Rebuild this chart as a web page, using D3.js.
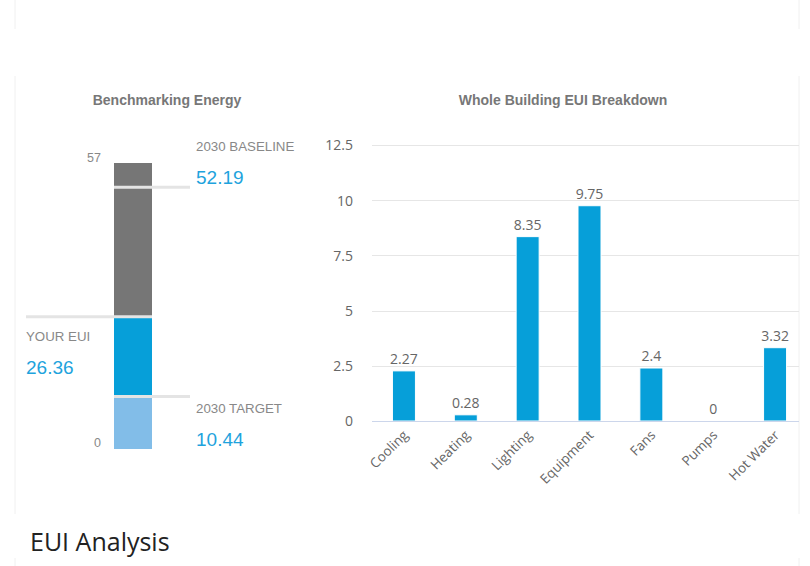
<!DOCTYPE html>
<html>
<head>
<meta charset="UTF-8" />
<title>EUI Analysis</title>
<script src="https://cdn.jsdelivr.net/npm/d3@7"></script>
<style>
body{margin:0;background:#fff;}
svg{display:block;}
</style>
</head>
<body>
<div id="chart"></div>
<script type="text/javascript">
var w=810,h=566;

// benchmark data
var benchLabels=['2030 BASELINE','YOUR EUI','2030 TARGET'];
var benchValues=[52.19,26.36,10.44];
var benchMax=57;

// breakdown data
var categories=['Cooling','Heating','Lighting','Equipment','Fans','Pumps','Hot Water'];
var values=[2.27,0.28,8.35,9.75,2.4,0,3.32];
var yTicks=[0,2.5,5,7.5,10,12.5];

var svg=d3.select('#chart').append('svg')
  .attr('width',w).attr('height',h);

// faint panel edges
var panels=[[0,29],[76,514],[558,566]];
panels.forEach(function(p){
  [15,799].forEach(function(x){
    svg.append('line').attr('x1',x).attr('x2',x).attr('y1',p[0]).attr('y2',p[1])
      .attr('stroke','#f0f0f0').attr('stroke-width',1);
  });
});

// ---------- left: benchmarking ----------
svg.append('text').attr('x',167).attr('y',105).attr('text-anchor','middle')
  .attr('font-family','Liberation Sans, Arial, sans-serif').attr('font-size',14)
  .attr('font-weight','bold').attr('fill','#777').text('Benchmarking Energy');

var by=d3.scaleLinear().domain([0,benchMax]).range([449,163]);
var bx0=114,bw=38;

var segs=[
  {from:benchMax,to:benchValues[1],color:'#767676'},
  {from:benchValues[1],to:benchValues[2],color:'#069fd9'},
  {from:benchValues[2],to:0,color:'#82bde8'}
];
svg.selectAll('rect.seg').data(segs).enter().append('rect')
  .attr('class','seg')
  .attr('x',bx0).attr('width',bw)
  .attr('y',function(d){return by(d.from);})
  .attr('height',function(d){return by(d.to)-by(d.from);})
  .attr('fill',function(d){return d.color;});

// marker lines: baseline & target go right, your eui goes left
var markers=[
  {v:benchValues[0],x1:bx0,x2:190},
  {v:benchValues[1],x1:26,x2:bx0+bw},
  {v:benchValues[2],x1:bx0,x2:190}
];
svg.selectAll('line.mk').data(markers).enter().append('line')
  .attr('class','mk')
  .attr('x1',function(d){return d.x1;}).attr('x2',function(d){return d.x2;})
  .attr('y1',function(d){return by(d.v);}).attr('y2',function(d){return by(d.v);})
  .attr('stroke','#e4e4e4').attr('stroke-width',3);

svg.selectAll('text.bend').data([benchMax,0]).enter().append('text')
  .attr('class','bend')
  .attr('x',101).attr('y',function(d,i){return i==0?by(d)-1:by(d)-2;})
  .attr('text-anchor','end')
  .attr('font-family','Liberation Sans, Arial, sans-serif').attr('font-size',12.5)
  .attr('fill','#888').text(function(d){return d;});

var labelPos=[{x:196,y:151},{x:26,y:341},{x:196,y:413}];
benchLabels.forEach(function(l,i){
  svg.append('text').attr('x',labelPos[i].x).attr('y',labelPos[i].y)
    .attr('font-family','Liberation Sans, Arial, sans-serif').attr('font-size',13.3)
    .attr('fill','#888').text(l);
  svg.append('text').attr('x',labelPos[i].x).attr('y',labelPos[i].y+33)
    .attr('font-family','Liberation Sans, Arial, sans-serif').attr('font-size',19)
    .attr('fill','#1ea3dd').text(benchValues[i].toFixed(2));
});

// ---------- right: breakdown ----------
svg.append('text').attr('x',563).attr('y',105).attr('text-anchor','middle')
  .attr('font-family','Liberation Sans, Arial, sans-serif').attr('font-size',14)
  .attr('font-weight','bold').attr('fill','#777').text('Whole Building EUI Breakdown');

svg.append('clipPath').attr('id','plotclip').append('rect')
  .attr('x',0).attr('y',0).attr('width',799).attr('height',h);

var plot=svg.append('g').attr('clip-path','url(#plotclip)');

var x=d3.scaleBand().domain(categories).range([373,806]).paddingInner(0).paddingOuter(0);
var y=d3.scaleLinear().domain([0,12.5]).range([421,145]);

plot.selectAll('line.grid').data(yTicks.slice(1)).enter().append('line')
  .attr('class','grid')
  .attr('x1',372).attr('x2',806)
  .attr('y1',function(d){return Math.round(y(d))+0.5;})
  .attr('y2',function(d){return Math.round(y(d))+0.5;})
  .attr('stroke','#e6e6e6');

var yAxis=d3.axisLeft(y).tickValues(yTicks).tickSize(0).tickPadding(0)
  .tickFormat(function(d){return d;});
var yg=svg.append('g').attr('transform','translate(353,0)').call(yAxis);
yg.select('.domain').remove();
yg.selectAll('text').attr('font-family','Open Sans, sans-serif').attr('font-size',14)
  .attr('fill','#666').attr('dy','0.35em');

var bw2=23;
plot.selectAll('rect.bar').data(values).enter().append('rect')
  .attr('class','bar')
  .attr('x',function(d,i){return x(categories[i])+x.bandwidth()/2-bw2/2;})
  .attr('width',bw2)
  .attr('y',function(d){return y(d);})
  .attr('height',function(d){return y(0)-y(d);})
  .attr('fill','#069fd9').attr('stroke','#fff').attr('stroke-width',1);

plot.append('line').attr('x1',372).attr('x2',806)
  .attr('y1',Math.round(y(0))+0.5).attr('y2',Math.round(y(0))+0.5)
  .attr('stroke','#ccd6eb');

plot.selectAll('text.dl').data(values).enter().append('text')
  .attr('class','dl')
  .attr('x',function(d,i){return x(categories[i])+x.bandwidth()/2;})
  .attr('y',function(d){return y(d)-7;})
  .attr('text-anchor','middle')
  .attr('font-family','Open Sans, sans-serif').attr('font-size',14)
  .attr('fill','#666').text(function(d){return d;});

var xAxis=d3.axisBottom(x).tickSize(0).tickPadding(0);
var xg=svg.append('g').attr('transform','translate(0,421)').call(xAxis);
xg.select('.domain').remove();
xg.selectAll('text')
  .attr('font-family','Open Sans, sans-serif').attr('font-size',13.5).attr('fill','#666')
  .attr('text-anchor','end').attr('dy',0)
  .attr('transform','translate(5,15) rotate(-45)');

// ---------- footer title ----------
svg.append('text').attr('x',30).attr('y',551)
  .attr('font-family','Open Sans, sans-serif').attr('font-size',25)
  .attr('fill','#222').text('EUI Analysis');
</script>
</body>
</html>
